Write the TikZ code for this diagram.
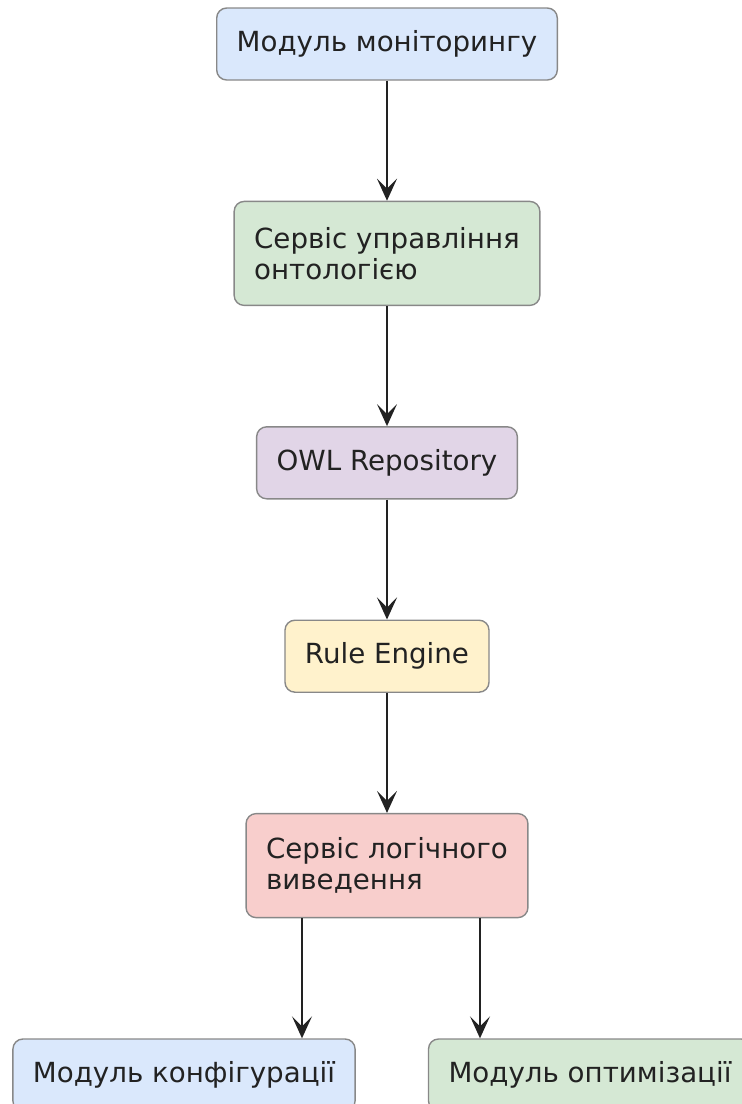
\documentclass[tikz,border=0pt]{standalone}
\usepackage{fontspec}
\setmainfont{DejaVu Sans}
\usetikzlibrary{positioning,arrows.meta}

\definecolor{boxline}{HTML}{888888}
\definecolor{txt}{HTML}{222222}
\definecolor{fillblue}{HTML}{DAE8FC}
\definecolor{fillgreen}{HTML}{D5E8D4}
\definecolor{fillpurple}{HTML}{E1D5E7}
\definecolor{fillyellow}{HTML}{FFF2CC}
\definecolor{fillred}{HTML}{F8CECC}

\begin{document}
\begin{tikzpicture}[x=0.5pt, y=0.5pt, node distance=60pt,
  box/.style={draw=boxline, line width=0.7pt, rounded corners=5pt, align=left,
    inner xsep=10pt, inner ysep=11pt, minimum height=36pt, text=txt,
    font=\fontsize{13.85}{15.5}\selectfont},
  twoline/.style={minimum height=52pt},
  arr/.style={-{Stealth[length=11pt, width=10pt, inset=5pt]}, line width=0.9pt, draw=txt}]
\useasboundingbox (0,0) rectangle (742,-1104);
\node (mon)[box, fill=fillblue] at (387,-44) {Модуль моніторингу};
\node (ont)[box, twoline, fill=fillgreen] [below=of mon] {Сервіс управління\\онтологією};
\node (owl)[box, fill=fillpurple] [below=of ont] {OWL Repository};
\node (rule)[box, fill=fillyellow] [below=of owl] {Rule Engine};
\node (inf)[box, twoline, fill=fillred] [below=of rule] {Сервіс логічного\\виведення};
\node (conf)[box, fill=fillblue] [below=of inf, xshift=-101.5pt] {Модуль конфігурації};
\node (opt)[box, fill=fillgreen] [below=of inf, xshift=101.5pt] {Модуль оптимізації};
\coordinate (infl) at ([xshift=-42.5pt]inf.south);
\coordinate (infr) at ([xshift=46.5pt]inf.south);
\draw[arr] (mon) -- (ont);
\draw[arr] (ont) -- (owl);
\draw[arr] (owl) -- (rule);
\draw[arr] (rule) -- (inf);
\draw[arr] (infl) -- (infl |- conf.north);
\draw[arr] (infr) -- (infr |- opt.north);
\end{tikzpicture}
\end{document}
